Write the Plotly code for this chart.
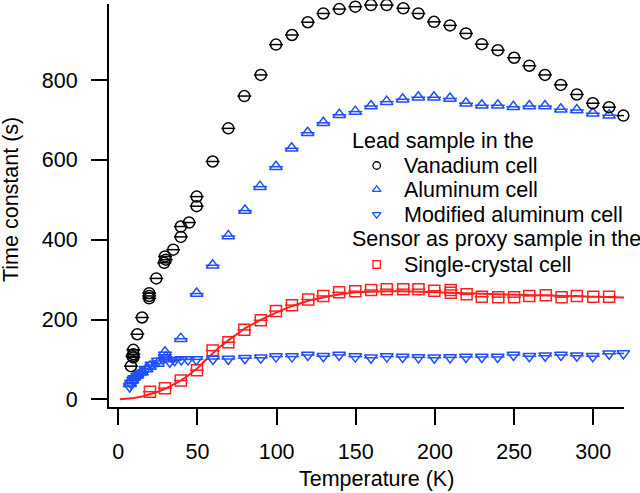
import plotly.graph_objects as go

# ---------------- data ----------------
vanadium_T = [8, 9, 9.5, 9.5, 9.5, 12, 15, 19.5, 19.5, 19.5, 24, 29, 29.5, 30, 34.7, 39.5, 39.5,
              44.7, 49.5, 49.5, 59.6, 69.5, 79.6, 90, 99.6, 109.7, 119.7, 129.5, 139.6, 149.7,
              159.6, 169.5, 180, 189.5, 199.4, 209.5, 219.6, 229.6, 239.7, 250, 259.6, 269.5,
              279.5, 289.6, 299.7, 310, 319]
vanadium_tau = [83, 108, 124, 113, 105, 163, 205, 266, 259, 253, 303, 342, 358, 350, 375, 407, 433,
                443, 508, 484, 596, 679, 760, 813, 889, 913, 945, 967, 978, 984,
                988, 988, 980, 967, 946, 937, 917, 890, 875, 856, 836, 813,
                788, 764, 742, 732, 711]

aluminum_T = [7.5, 9, 10, 12, 15, 18, 20, 25, 29.5, 30, 39.5, 49.5, 59.6, 69.5, 80, 89.5, 99.6,
              109.5, 119.6, 129.5, 139.6, 149.7, 159.6, 169.5, 179.6, 189.5, 199.4, 209.5, 219.6,
              229.6, 239.7, 249.5, 259.6, 269.5, 279.5, 289.6, 299.7, 310]
aluminum_tau = [40, 48, 55, 60, 68, 76, 82, 90, 118, 106, 152, 265, 336, 409, 473, 533, 583,
                629, 668, 693, 713, 721, 735, 746, 752, 757, 757, 754, 742,
                737, 737, 733, 735, 735, 727, 725, 717, 712]

modified_T = [7.2, 8, 9.3, 10, 12, 14, 17, 20.9, 25, 29.3, 32.5, 35.6, 39.8, 44, 49.3, 59.8, 69.5,
              80, 90, 99.6, 109.7, 119.7, 129.5, 139.5, 149.7, 159.6, 169.6, 179.6, 189.6, 199.6,
              209.6, 219.6, 229.6, 239.6, 249.6, 259.6, 269.6, 279.6, 289.6, 299.7, 310, 319]
modified_tau = [32, 40, 48, 52, 58, 64, 75, 86, 96, 105, 94, 98, 100, 100, 100, 101, 101,
                103, 104, 107, 107, 111, 108, 111, 107, 104, 107, 106, 105, 104,
                105, 106, 106, 106, 111, 108, 109, 111, 109, 108, 114, 115]

crystal_T = [20, 29.5, 39.5, 49.7, 59.6, 69.5, 79.6, 90, 99.6, 109.7, 120, 129.5, 139.5, 149.7,
             159.7, 169.6, 180, 189.6, 199.6, 210, 210, 220, 229.6, 240, 250, 259.6, 270, 280,
             289.6, 300, 310]
crystal_tau = [19, 28, 47, 73, 122, 143, 174, 198, 221, 236, 250, 259, 268, 271,
               274, 276, 276, 276, 272, 274, 267, 263, 257, 256, 256, 259, 261, 256,
               259, 257, 257]

fit_T = [1, 5, 10, 15, 20, 25, 30, 35, 40, 45, 50, 55, 60, 65, 70, 75, 80, 90, 100, 110, 120,
         130, 140, 150, 160, 170, 180, 190, 200, 220, 240, 260, 280, 300, 320]
fit_tau = [0, 1, 3, 7, 13, 19, 27, 37, 48, 62, 78, 98, 117, 134, 149, 164, 178, 199, 218, 234, 247,
           256, 263, 268, 270, 271, 271, 270, 269, 266, 263, 261, 259, 257, 255]

x_ticks = [0, 50, 100, 150, 200, 250, 300]
y_ticks = [0, 200, 400, 600, 800]

legend_headers = ["Lead sample in the", "Sensor as proxy sample in the"]
legend_labels = ["Vanadium cell", "Aluminum cell", "Modified aluminum cell", "Single-crystal cell"]

# ---------------- style ----------------
FONT = "Liberation Sans, Arial, sans-serif"
FS = 21.5
BLACK = "#000000"
BLUE = "#1f4fff"
RED = "#ff2020"
T_ERR = 4.4

fig = go.Figure()


def add_series(x, y, color, symbol, size=11):
    fig.add_trace(go.Scatter(
        x=x, y=y, mode="markers", showlegend=False, cliponaxis=False,
        marker=dict(symbol=symbol, size=size, color=color,
                    line=dict(color=color, width=1.5)),
        error_x=dict(type="constant", value=T_ERR, color=color, thickness=1.5, width=0),
    ))


fig.add_trace(go.Scatter(x=fit_T, y=fit_tau, mode="lines", showlegend=False,
                         line=dict(color=RED, width=2), cliponaxis=False))
add_series(crystal_T, crystal_tau, RED, "square-open", 11)
add_series(modified_T, modified_tau, BLUE, "triangle-down-open", 11)
add_series(aluminum_T, aluminum_tau, BLUE, "triangle-up-open", 11)
add_series(vanadium_T, vanadium_tau, BLACK, "circle-open", 11)

# legend symbols (pixel coordinate overlay axes)
leg_x = 376.7
leg_y = [165.5, 189.5, 214.5, 264.5]
leg_sym = ["circle-open", "triangle-up-open", "triangle-down-open", "square-open"]
leg_col = [BLACK, BLUE, BLUE, RED]
for yy, s, c in zip(leg_y, leg_sym, leg_col):
    fig.add_trace(go.Scatter(x=[leg_x], y=[yy], xaxis="x2", yaxis="y2", mode="markers",
                             showlegend=False, cliponaxis=False,
                             marker=dict(symbol=s, size=7.5, color=c, line=dict(color=c, width=1.3))))

ann = []
txt_rows = [
    (legend_headers[0], 351.0, 141),
    (legend_labels[0], 402.5, 166),
    (legend_labels[1], 402.5, 190),
    (legend_labels[2], 402.5, 214.5),
    (legend_headers[1], 351.0, 238.5),
    (legend_labels[3], 402.5, 265),
]
for t, xx, yy in txt_rows:
    ann.append(dict(text=t, x=xx, y=yy, xref="x2", yref="y2", xanchor="left", yanchor="middle",
                    showarrow=False, font=dict(family=FONT, size=FS, color=BLACK), borderpad=0))

L, R, T, B = 109, 16, 4, 86
W, H = 640, 493
pw, ph = W - L - R, H - T - B

ann.append(dict(text="Time constant (s)", x=(11 - L) / pw, y=(H - B - 200) / ph,
                xref="paper", yref="paper", textangle=-90, showarrow=False,
                xanchor="center", yanchor="middle", font=dict(family=FONT, size=FS, color=BLACK)))
ann.append(dict(text="Temperature (K)", x=(376 - L) / pw, y=(H - B - 479) / ph,
                xref="paper", yref="paper", showarrow=False,
                xanchor="center", yanchor="middle", font=dict(family=FONT, size=FS, color=BLACK)))

axis_common = dict(showline=True, linewidth=2, linecolor=BLACK, ticks="outside", ticklen=16,
                   tickwidth=2, tickcolor=BLACK, showgrid=False, zeroline=False,
                   tickfont=dict(family=FONT, size=FS, color=BLACK))

fig.update_layout(
    width=W, height=H, margin=dict(l=L, r=R, t=T, b=B, pad=0),
    paper_bgcolor="white", plot_bgcolor="white",
    font=dict(family=FONT, size=FS, color=BLACK),
    xaxis=dict(range=[-5.87, 319.4], tickvals=x_ticks, ticklabelstandoff=8, **axis_common),
    yaxis=dict(range=[-19.3, 990.7], tickvals=y_ticks, ticklabelstandoff=9, **axis_common),
    xaxis2=dict(overlaying="x", range=[L, W - R], visible=False),
    yaxis2=dict(overlaying="y", range=[H - B, T], visible=False),
    annotations=ann,
)

fig.write_html("out.html")
